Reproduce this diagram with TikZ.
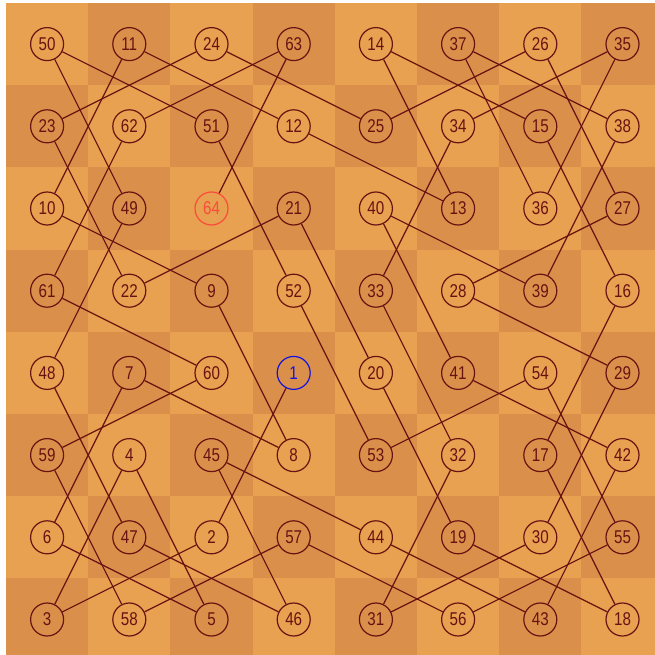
\documentclass[tikz,border=0pt]{standalone}
\usepackage{graphicx}
\usepackage{fontspec}
\setmainfont{Liberation Sans}
\definecolor{sqlight}{RGB}{231,161,80}
\definecolor{sqdark}{RGB}{218,144,74}
\definecolor{tourline}{RGB}{105,18,18}
\definecolor{tourred}{RGB}{250,75,60}
\definecolor{tourblue}{RGB}{20,20,225}
\tikzset{
  sq/.style={circle,minimum size=33pt,inner sep=0pt,line width=1.2pt,
    font=\fontsize{18.5}{18.5}\selectfont},
  tourpath/.style={draw=tourline,line width=1.2pt}
}
\begin{document}
\begin{tikzpicture}[x=1pt,y=-1pt]
\useasboundingbox (0,0) rectangle (655,655);
\fill[white] (0,0) rectangle (655,655);
\begin{scope}
\clip (0,0) rectangle (655,655);
\foreach \r in {0,...,7}{
  \foreach \c in {0,...,7}{
    \pgfmathtruncatemacro\pty{mod(\r+\c,2)}
    \ifnum\pty=0 \def\sqc{sqlight}\else\def\sqc{sqdark}\fi
    \fill[\sqc] ({6+82.2*\c},{3+82.2*\r}) rectangle ++(82.2,82.2);
  }
}
\end{scope}
\foreach \n [count=\i from 0] in {50,11,24,63,14,37,26,35,
  23,62,51,12,25,34,15,38,
  10,49,64,21,40,13,36,27,
  61,22,9,52,33,28,39,16,
  48,7,60,1,20,41,54,29,
  59,4,45,8,53,32,17,42,
  6,47,2,57,44,19,30,55,
  3,58,5,46,31,56,43,18}{
  \pgfmathtruncatemacro\rr{\i/8}
  \pgfmathtruncatemacro\cc{mod(\i,8)}
  \def\col{tourline}
  \ifnum\n=64 \def\col{tourred}\fi
  \ifnum\n=1 \def\col{tourblue}\fi
  \node[sq,draw=\col,text=\col] (n\n) at ({6+82.2*(\cc+0.5)},{3+82.2*(\rr+0.5)}) {\scalebox{0.82}[1]{\n}};
}
\foreach \a [evaluate=\a as \b using int(\a+1)] in {1,...,63}{
  \draw[tourpath] (n\a) -- (n\b);
}
\end{tikzpicture}
\end{document}
